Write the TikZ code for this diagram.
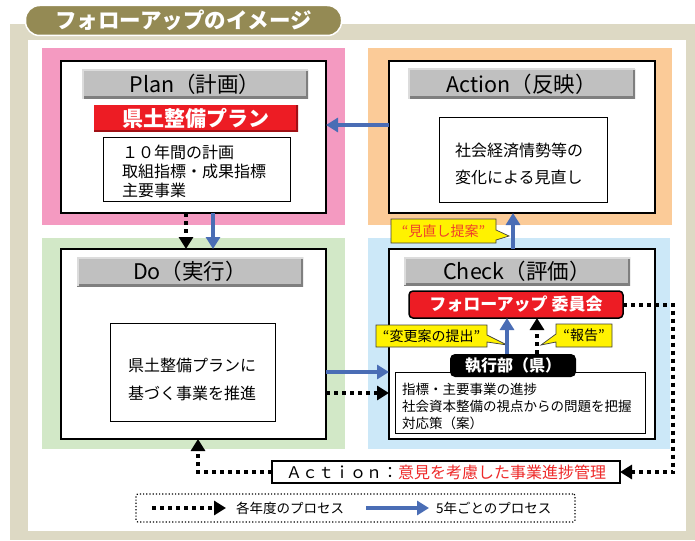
\documentclass[tikz,border=0pt]{standalone}
\usepackage{fontspec}
\setmainfont{Noto Sans CJK JP}
\usetikzlibrary{arrows.meta}
\definecolor{beigeC}{HTML}{DDD9C4}
\definecolor{oliveC}{HTML}{948A54}
\definecolor{pinkC}{HTML}{F49AC1}
\definecolor{orangeC}{HTML}{FBCB98}
\definecolor{greenC}{HTML}{D2E8C7}
\definecolor{skyC}{HTML}{CCE8F8}
\definecolor{barC}{HTML}{C0C0C0}
\definecolor{barDark}{HTML}{7F7F7F}
\definecolor{barLight}{HTML}{DCDCDC}
\definecolor{redC}{HTML}{ED1C24}
\definecolor{redDark}{HTML}{A01015}
\definecolor{arrowC}{HTML}{4A6DB5}
\definecolor{yellowC}{HTML}{FFF200}
\definecolor{txtRed}{HTML}{EE2A2A}
\definecolor{calloutRed}{HTML}{F0402A}
\begin{document}
\begin{tikzpicture}[x=1pt,y=-1pt,
  rect/.style={anchor=north west, inner sep=0pt, outer sep=0pt},
  band/.style={rect, draw=none},
  panel/.style={rect, draw=black, line width=1.8pt, fill=white},
  txtbox/.style={rect, draw=black, line width=0.9pt, fill=white},
  greybar/.style={rect, fill=barC, font=\fontsize{21.5}{24}\selectfont,
    path picture={
      \draw[barDark, line width=5pt] (path picture bounding box.north east) -- (path picture bounding box.south east) -- (path picture bounding box.south west);
      \draw[barLight, line width=3pt] (path picture bounding box.south west) -- (path picture bounding box.north west) -- (path picture bounding box.north east);
    }},
  redbar/.style={rect, fill=redC, text=white, font=\fontsize{21}{24}\selectfont\bfseries,
    path picture={
      \draw[redDark, line width=4pt] (path picture bounding box.north east) -- (path picture bounding box.south east) -- (path picture bounding box.south west);
    }},
  txt/.style={inner sep=0pt, outer sep=0pt, align=left},
  lbl/.style={inner sep=0pt, outer sep=0pt, font=\fontsize{13.5}{16}\selectfont},
  callout/.style={fill=yellowC, draw=black!75, line width=0.7pt},
  calltxt/.style={inner sep=0pt, font=\fontsize{14}{16}\selectfont},
  blueArrow/.style={draw=arrowC, line width=4pt, -{Triangle[width=14pt,length=12pt]}},
  dotArrow/.style={draw=black, line width=4pt, dash pattern=on 4pt off 4pt, -{Triangle[width=14pt,length=12pt]}}
]
\useasboundingbox (0,0) rectangle (695,540);
% background frame
\node[band, fill=beigeC, minimum width=685pt, minimum height=516pt] (bg) at (10,24) {};
\node[band, fill=white, minimum width=658pt, minimum height=491pt] (inner) at (28,40) {};
\node[fill=oliveC, draw=white, line width=1.5pt, rounded corners=14pt, minimum width=316pt, minimum height=30pt, inner sep=0pt, text=white, font=\fontsize{21.5}{24}\selectfont\bfseries] (title) at (183.5,20.5) {フォローアップのイメージ};

% coloured bands
\node[band, fill=pinkC, minimum width=303pt, minimum height=177pt] (pinkband) at (42,48) {};
\node[band, fill=orangeC, minimum width=304pt, minimum height=177pt] (orangeband) at (368,48) {};
\node[band, fill=greenC, minimum width=303pt, minimum height=211pt] (greenband) at (42,238) {};
\node[band, fill=skyC, minimum width=302pt, minimum height=211pt] (skyband) at (368,238) {};

% panels
\node[panel, minimum width=265pt, minimum height=152pt] (plan) at (61,61) {};
\node[panel, minimum width=266pt, minimum height=152pt] (action) at (389,61) {};
\node[panel, minimum width=265pt, minimum height=190pt] (do) at (61,249) {};
\node[panel, minimum width=266pt, minimum height=190pt] (check) at (389,249) {};

% title bars
\node[greybar, minimum width=226pt, minimum height=29pt] (planbar) at (82,70) {Plan（計画）};
\node[greybar, minimum width=227pt, minimum height=30pt] (actionbar) at (408,69) {Action（反映）};
\node[greybar, minimum width=226pt, minimum height=29pt] (dobar) at (77,257) {Do（実行）};
\node[greybar, minimum width=226pt, minimum height=28pt] (checkbar) at (404,257) {Check（評価）};

% Plan content
\node[redbar, minimum width=204pt, minimum height=27pt] (planname) at (94,105) {県土整備プラン};
\node[txtbox, minimum width=187pt, minimum height=64pt] (plantxtbox) at (103,137) {};
\node[txt, anchor=west, font=\fontsize{16}{19}\selectfont] (plantxt) at (122,171) {１０年間の計画\\取組指標・成果指標\\主要事業};

% Action content
\node[txtbox, minimum width=168pt, minimum height=85pt] (actiontxtbox) at (439,117) {};
\node[txt, anchor=west, font=\fontsize{16}{27}\selectfont] (actiontxt) at (455,163.5) {社会経済情勢等の\\変化による見直し};

% Do content
\node[txtbox, minimum width=165pt, minimum height=98pt] (dotxtbox) at (110,323) {};
\node[txt, anchor=west, font=\fontsize{16}{28}\selectfont] (dotxt) at (128,379) {県土整備プランに\\基づく事業を推進};

% Check content
\node[txtbox, minimum width=250pt, minimum height=61pt] (checktxtbox) at (395,372) {};
\node[txt, anchor=west, font=\fontsize{13.5}{17}\selectfont] (checktxt) at (402,406) {指標・主要事業の進捗\\社会資本整備の視点からの問題を把握\\対応策（案）};
\node[rect, fill=redC, draw=black, line width=1.5pt, rounded corners=4pt, minimum width=214pt, minimum height=27pt, text=white, font=\fontsize{17}{20}\selectfont\bfseries] (iinkai) at (409,291) {フォローアップ\hspace{4pt}委員会};
\node[rect, fill=black, rounded corners=5pt, minimum width=126pt, minimum height=23pt, text=white, font=\fontsize{16}{19}\selectfont\bfseries] (exec) at (450,354) {執行部（県）};

% callouts
\draw[callout] (376,325) -- (487,325) -- (487,335) -- (507,345) -- (487,342) -- (487,347) -- (376,347) -- cycle;
\node[calltxt] (c1) at (431.5,336) {“変更案の提出”};
\draw[callout] (556,324) -- (612,324) -- (612,347) -- (556,347) -- (556,342) -- (541,345) -- (556,334) -- cycle;
\node[calltxt] (c2) at (584,335.5) {“報告”};
\draw[callout] (391,219) -- (496,219) -- (496,230) -- (509,236) -- (496,240) -- (496,243) -- (391,243) -- cycle;
\node[calltxt, text=calloutRed] (c3) at (443.5,231) {“見直し提案”};

% bottom action box
\node[rect, draw=black, line width=1.6pt, fill=white, minimum width=348pt, minimum height=22pt, font=\fontsize{16}{19}\selectfont] (actbox) at (272,461) {Ａｃｔｉｏｎ：\textcolor{txtRed}{意見を考慮した事業進捗管理}};

% connectors
\draw[blueArrow] ([yshift=12pt]action.west) -- ([yshift=12pt]plan.east);
\draw[blueArrow] ([xshift=19.5pt]plan.south) -- ([xshift=19.5pt]do.north);
\draw[dotArrow] ([xshift=-7.5pt]plan.south) -- ([xshift=-7.5pt]do.north);
\draw[blueArrow] ([yshift=-28pt]do.east) -- ([yshift=-28pt]check.west);
\draw[dotArrow] ([yshift=-49pt]do.east) -- ([yshift=-49pt]check.west);
\draw[blueArrow] ([xshift=-9pt]check.north) -- ([xshift=-9pt]action.south);
\draw[blueArrow] ([xshift=-6pt]exec.north) -- ([xshift=-6pt]exec.north |- iinkai.south);
\draw[dotArrow] ([xshift=24pt]exec.north) -- ([xshift=24pt]exec.north |- iinkai.south);
\draw[dotArrow] (iinkai.east) -- ++(50,0) |- (actbox.east);
\draw[dotArrow] (actbox.west) -| ([xshift=4.5pt]do.south);

% legend
\node[rect, draw=black, dotted, line width=1.2pt, rounded corners=2pt, minimum width=439pt, minimum height=28pt] (legend) at (136,494) {};
\coordinate (l1a) at (152,508);
\coordinate (l1b) at (226,508);
\draw[dotArrow] (l1a) -- (l1b);
\node[lbl, anchor=west] (l1txt) at (236,508) {各年度のプロセス};
\coordinate (l2a) at (366,508);
\coordinate (l2b) at (429,508);
\draw[blueArrow] (l2a) -- (l2b);
\node[lbl, anchor=west] (l2txt) at (436,508) {5年ごとのプロセス};
\end{tikzpicture}
\end{document}
